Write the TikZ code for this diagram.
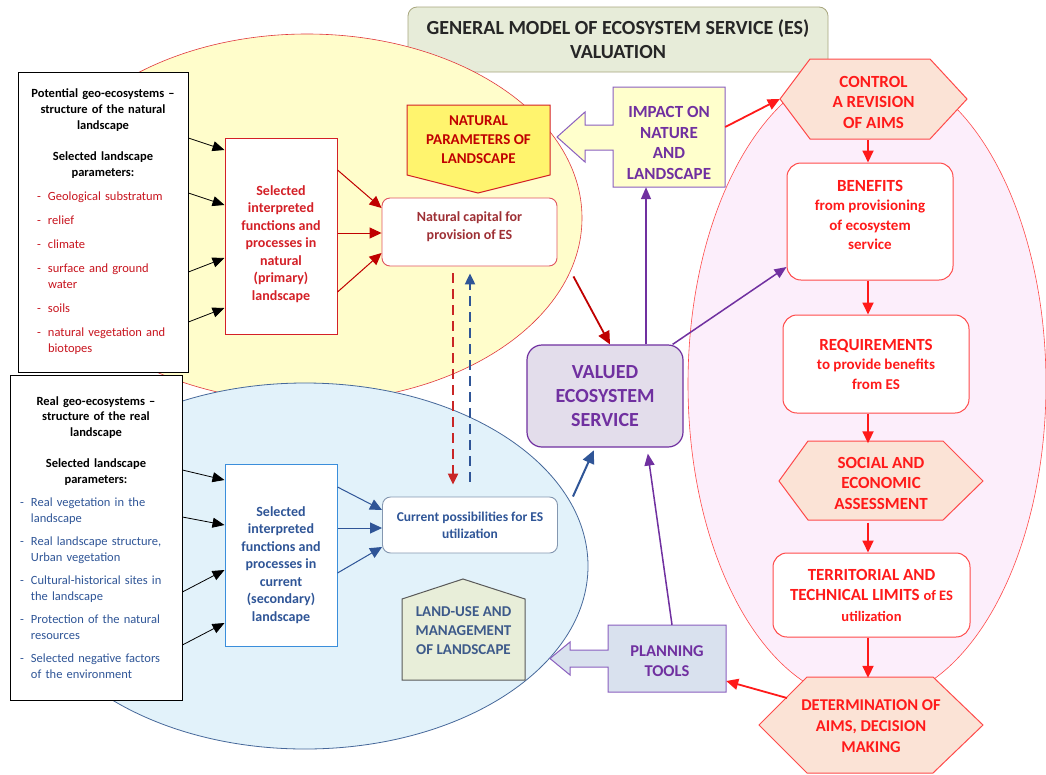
\documentclass[tikz,border=0pt]{standalone}
\usepackage{fontspec}
\setmainfont{Carlito}
\usepackage{tikz}
\usetikzlibrary{arrows.meta}

\definecolor{titlebg}{HTML}{E7ECD9}
\definecolor{titleline}{HTML}{A8A67E}
\definecolor{titletext}{HTML}{262626}
\definecolor{yellowbg}{HTML}{FFFDCB}
\definecolor{bluebg}{HTML}{E2F2FA}
\definecolor{pinkbg}{HTML}{FCEEFB}
\definecolor{ellred}{HTML}{E0383E}
\definecolor{ellblue}{HTML}{46689A}
\definecolor{pinkline}{HTML}{FF4A4A}
\definecolor{darkred}{HTML}{C00000}
\definecolor{itemred}{HTML}{C8141E}
\definecolor{natred}{HTML}{D42027}
\definecolor{capred}{HTML}{9E3035}
\definecolor{capline}{HTML}{E05560}
\definecolor{esblue}{HTML}{2F5597}
\definecolor{selblue}{HTML}{3A8EDB}
\definecolor{curline}{HTML}{8497B0}
\definecolor{esviolet}{HTML}{7030A0}
\definecolor{violetline}{HTML}{8A5FBF}
\definecolor{violetbg}{HTML}{E3DDEB}
\definecolor{planbg}{HTML}{D9E1EE}
\definecolor{impactbg}{HTML}{FFFFCC}
\definecolor{natparbg}{HTML}{FFF46E}
\definecolor{landbg}{HTML}{E8EED9}
\definecolor{landtext}{HTML}{3D5A8A}
\definecolor{hexbg}{HTML}{FBE3D6}
\definecolor{aimred}{HTML}{FF1A1A}
\definecolor{aimline}{HTML}{FF4A4A}

\newcommand{\lsitem}[1]{\par\vspace{8pt}\hangindent=11pt\hangafter=1\noindent\makebox[11pt][l]{-}#1}

\begin{document}
\begin{tikzpicture}[x=1pt, y=-1pt,
    titlebox/.style={draw=titleline, fill=titlebg, rounded corners=9pt, line width=0.8pt, minimum width=420pt, minimum height=65pt, align=center, text=titletext, font=\fontsize{20}{24}\selectfont\bfseries},
    listbox/.style={draw=black, fill=white, line width=0.8pt, inner xsep=8pt, inner ysep=0pt},
    selbox/.style={fill=white, line width=1pt, minimum width=112pt},
    seltext/.style={align=center, font=\fontsize{14}{17.5}\selectfont\bfseries},
    capbox/.style={fill=white, rounded corners=8pt, line width=0.9pt, minimum width=175pt},
    valbox/.style={draw=esviolet, fill=violetbg, rounded corners=15pt, line width=1.2pt, minimum width=156pt, minimum height=102pt, align=center, text=esviolet, font=\fontsize{20}{24}\selectfont\bfseries},
    calltext/.style={align=center, font=\fontsize{17}{20.5}\selectfont\bfseries},
    aimbox/.style={draw=aimline, fill=white, rounded corners=14pt, line width=1pt},
    aimtext/.style={align=center, text=aimred, font=\fontsize{15}{19.5}\selectfont\bfseries},
    hexshape/.style={draw=aimline, fill=hexbg, line width=1pt},
    hextext/.style={align=center, text=aimred, font=\fontsize{17}{20.5}\selectfont\bfseries},
    blackarrow/.style={-{Triangle[length=12pt,width=10pt]}, line width=0.8pt, black},
    natarrow/.style={-{Triangle[length=12pt,width=11pt]}, line width=1pt, darkred},
    curarrow/.style={-{Triangle[length=12pt,width=11pt]}, line width=1pt, esblue},
    violetarrow/.style={-{Triangle[length=12pt,width=10pt]}, line width=1.5pt, esviolet},
    aimarrow/.style={-{Triangle[length=12pt,width=11pt]}, line width=1.8pt, aimred},
    dasharrow/.style={-{Triangle[length=11pt,width=10pt]}, line width=2.2pt, dash pattern=on 10pt off 6pt}]
    \useasboundingbox (0,0) rectangle (1046,774);
    \fill[white] (0,0) rectangle (1046,774);

    \node[titlebox] (title) at (618,39.5) {GENERAL MODEL OF ECOSYSTEM SERVICE (ES)\\VALUATION};

    % the three fields
    \draw[draw=pinkline, fill=pinkbg, line width=0.6pt] (867,384) ellipse [x radius=179pt, y radius=318pt];
    \draw[draw=ellred, fill=yellowbg, line width=0.6pt] (307,218) ellipse [x radius=275pt, y radius=184pt];
    \draw[draw=ellblue, fill=bluebg, line width=0.8pt] (305,566) ellipse [x radius=283pt, y radius=183pt];

    % parameter lists
    \node[listbox, text width=154pt, minimum height=300pt, font=\fontsize{12.5}{16}\selectfont] (potential) at (103,222) {%
      {\centering\bfseries Potential geo-ecosystems --\\structure of the natural\\landscape\par}
      \vspace{15pt}
      {\centering\bfseries Selected landscape\\parameters:\par}
      {\color{itemred}\leftskip=11pt
      \lsitem{Geological substratum}
      \lsitem{relief}
      \lsitem{climate}
      \lsitem{surface and ground\newline water}
      \lsitem{soils}
      \lsitem{natural vegetation and\newline biotopes}\par}};
    \node[listbox, text width=156pt, minimum height=325pt, font=\fontsize{12.5}{15.5}\selectfont] (real) at (96,537.5) {%
      {\centering\bfseries Real geo-ecosystems --\\structure of the real\\landscape\par}
      \vspace{16pt}
      {\centering\bfseries Selected landscape\\parameters:\par}
      {\color{esblue}\leftskip=2pt
      \lsitem{Real vegetation in the\newline landscape}
      \lsitem{Real landscape structure,\newline Urban vegetation}
      \lsitem{Cultural-historical sites in\newline the landscape}
      \lsitem{Protection of the natural\newline resources}
      \lsitem{Selected negative factors\newline of the environment}\par}};

    % functions and processes
    \node[selbox, draw=natred, minimum height=196pt] (selnat) at (281,236) {};
    \node[seltext, text=natred] (selnattext) at (281,244) {Selected\\interpreted\\functions and\\processes in\\natural\\(primary)\\landscape};
    \node[selbox, draw=selblue, minimum height=182pt] (selcur) at (281,555) {};
    \node[seltext, text=esblue] (selcurtext) at (281,565) {Selected\\interpreted\\functions and\\processes in\\current\\(secondary)\\landscape};

    \node[capbox, draw=capline, minimum height=68pt] (cap) at (469.5,232) {};
    \node[align=center, text=capred, font=\fontsize{14}{18}\selectfont\bfseries] (captext) at (469.5,226.5) {Natural capital for\\provision of ES};
    \node[capbox, draw=curline, minimum height=56pt, align=center, text=esblue, font=\fontsize{13.5}{17}\selectfont\bfseries] (cur) at (470,525) {Current possibilities for ES\\utilization};

    \node[valbox] (valued) at (605,396) {VALUED\\ECOSYSTEM\\SERVICE};

    % call-out shapes
    \draw[draw=natred, fill=natparbg, line width=1pt] (407,105) -- (550,105) -- (550,175) -- (478,193) -- (407,175) -- cycle;
    \node[align=center, text=darkred, font=\fontsize{15}{19}\selectfont\bfseries] (natpar) at (478.5,140) {NATURAL\\PARAMETERS OF\\LANDSCAPE};
    \draw[draw=violetline, fill=impactbg, line width=1pt] (613,87) -- (725,87) -- (725,187) -- (613,187) -- (613,150) -- (585,150) -- (585,162) -- (557,137) -- (585,112) -- (585,125) -- (613,125) -- cycle;
    \node[calltext, text=esviolet, minimum width=112pt, minimum height=88pt] (impact) at (669,143) {IMPACT ON\\NATURE\\AND\\LANDSCAPE};
    \draw[draw=violetline, fill=planbg, line width=1pt] (608,625) -- (726,625) -- (726,692) -- (608,692) -- (608,667) -- (570,667) -- (570,675) -- (550,658.5) -- (570,642) -- (570,650) -- (608,650) -- cycle;
    \node[calltext, text=esviolet, font=\fontsize{16.5}{20}\selectfont\bfseries, minimum width=118pt, minimum height=72pt] (planning) at (667,661) {PLANNING\\TOOLS};
    \draw[draw=black!65, fill=landbg, line width=1pt] (402,599) -- (463,579) -- (525,599) -- (525,680) -- (402,680) -- cycle;
    \node[align=center, text=landtext, font=\fontsize{15}{19}\selectfont\bfseries] (landuse) at (463.5,631) {LAND-USE AND\\MANAGEMENT\\OF LANDSCAPE};

    % valuation steps
    \draw[hexshape] (780,99) -- (810,59) -- (930,59) -- (967,99) -- (930,139) -- (810,139) -- cycle;
    \node[hextext, minimum width=187pt, minimum height=76pt] (control) at (873.5,102) {CONTROL\\A REVISION\\OF AIMS};
    \node[aimbox, minimum width=166pt, minimum height=117pt] (benefits) at (870,221.5) {};
    \node[aimtext] (benefitstext) at (870,215) {{\fontsize{17}{20}\selectfont BENEFITS}\\from provisioning\\of ecosystem\\service};
    \node[aimbox, aimtext, minimum width=186pt, minimum height=98pt] (requirements) at (876,364) {{\fontsize{17}{20}\selectfont REQUIREMENTS}\\to provide benefits\\from ES};
    \draw[hexshape] (779,481) -- (808,441) -- (943,441) -- (983,481) -- (943,520) -- (808,520) -- cycle;
    \node[hextext, minimum width=204pt, minimum height=79pt] (social) at (881,483) {SOCIAL AND\\ECONOMIC\\ASSESSMENT};
    \node[aimbox, aimtext, font=\fontsize{17}{20.5}\selectfont\bfseries, minimum width=197pt, minimum height=84pt] (territorial) at (871.5,595) {TERRITORIAL AND\\TECHNICAL LIMITS {\fontsize{14.5}{20.5}\selectfont of ES}\\{\fontsize{14.5}{20.5}\selectfont utilization}};
    \draw[hexshape] (759,725) -- (807,677) -- (933,677) -- (983,725) -- (933,773) -- (807,773) -- cycle;
    \node[hextext, font=\fontsize{16.5}{21}\selectfont\bfseries, minimum width=224pt, minimum height=96pt] (det) at (871,726) {DETERMINATION OF\\AIMS, DECISION\\MAKING};

    % connectors
    \draw[blackarrow] (potential.east |- 0,138) -- (selnat.west |- 0,150);
    \draw[blackarrow] (potential.east |- 0,193) -- (selnat.west |- 0,205);
    \draw[blackarrow] (potential.east |- 0,272) -- (selnat.west |- 0,258);
    \draw[blackarrow] (potential.east |- 0,322) -- (selnat.west |- 0,308);
    \draw[blackarrow] (real.east |- 0,470) -- (selcur.west |- 0,480);
    \draw[blackarrow] (real.east |- 0,517) -- (selcur.west |- 0,525);
    \draw[blackarrow] (real.east |- 0,592) -- (selcur.west |- 0,570);
    \draw[blackarrow] (real.east |- 0,645) -- (selcur.west |- 0,623);

    \draw[natarrow] (selnat.east |- 0,170) -- (cap.west |- 0,208);
    \draw[natarrow] (selnat.east |- 0,233) -- (cap.west |- 0,233);
    \draw[natarrow] (selnat.east |- 0,292) -- (cap.west |- 0,253);
    \draw[curarrow] (selcur.east |- 0,487) -- (cur.west |- 0,510);
    \draw[curarrow] (selcur.east |- 0,528) -- (cur.west |- 0,528);
    \draw[curarrow] (selcur.east |- 0,573) -- (cur.west |- 0,547);

    \draw[dasharrow, darkred!85, shorten <=7pt, shorten >=12pt] (453,0 |- cap.south) -- (453,0 |- cur.north);
    \draw[dasharrow, esblue, shorten <=15pt, shorten >=7pt] (470,0 |- cur.north) -- (470,0 |- cap.south);

    \draw[-{Triangle[length=13pt,width=12pt]}, line width=1.8pt, darkred] ([xshift=16pt,yshift=-10pt]cap.south east) -- (610,0 |- valued.north);
    \draw[-{Triangle[length=13pt,width=12pt]}, line width=2pt, esblue, shorten >=3pt] ([xshift=15pt]cur.north east) -- (595,0 |- valued.south);
    \draw[violetarrow] (646,0 |- valued.north) -- (646,0 |- impact.south);
    \draw[violetarrow] ([xshift=-11pt]valued.north east) -- (benefits.west |- 0,267);
    \draw[violetarrow, shorten >=6pt] (672,0 |- planning.north) -- (647,0 |- valued.south);

    \draw[aimarrow] (impact.east |- 0,127) -- (control.west |- 0,99);
    \draw[aimarrow] (868,0 |- control.south) -- (868,0 |- benefits.north);
    \draw[aimarrow] (868,0 |- benefits.south) -- (868,0 |- requirements.north);
    \draw[aimarrow] (868,0 |- requirements.south) -- (868,0 |- social.north);
    \draw[aimarrow] (868,0 |- social.south) -- (868,0 |- territorial.north);
    \draw[aimarrow] (868,0 |- territorial.south) -- (868,0 |- det.north);
    \draw[aimarrow] ([xshift=-84pt,yshift=28pt]det.center) -- (planning.east |- 0,681);
\end{tikzpicture}
\end{document}
